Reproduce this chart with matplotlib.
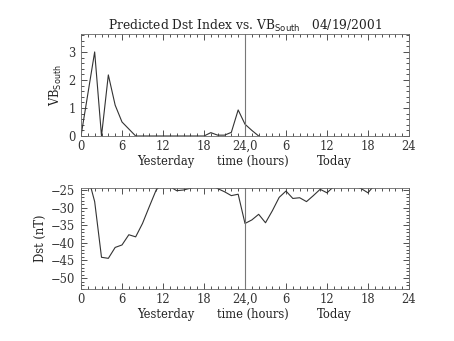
import matplotlib
matplotlib.use("Agg")
import matplotlib.pyplot as plt
from matplotlib.ticker import MultipleLocator

hours_vb = [0, 1, 2, 3, 4, 5, 6, 7, 8, 9, 10, 11, 12, 13, 14, 15, 16, 17, 18,
            19, 20, 21, 22, 23, 24, 25, 26]
vb_south = [0, 1.5, 3.0, 0, 2.18, 1.1, 0.5, 0.25, 0, 0, 0, 0, 0, 0, 0, 0, 0, 0, 0,
            0.12, 0.03, 0.03, 0.13, 0.93, 0.42, 0.2, 0]

hours_dst = list(range(0, 44))
dst = [-21, -21, -28.3, -44.1, -44.4, -41.3, -40.6, -37.7, -38.3, -34.5, -29.7,
       -25.0, -23.0, -24.0, -25.2, -25.0, -24.5, -24.0, -23.0, -23.5, -24.6,
       -25.5, -26.6, -26.2, -34.5, -33.5, -31.9, -34.3, -30.9, -27.1, -25.3,
       -27.4, -27.2, -28.3, -26.6, -24.8, -25.8, -24.0, -23.5, -23.0, -23.8,
       -24.6, -25.8, -23.5]

xticks = [0, 6, 12, 18, 24, 30, 36, 42, 48]
xticklabels = ["0", "6", "12", "18", "24,0", "6", "12", "18", "24"]

plt.rcParams['font.family'] = ['DejaVu Serif']
fs = 8.3

fig = plt.figure(figsize=(4.54, 3.41), dpi=100)
ax1 = fig.add_axes([81/454, 1 - 136/341, 328/454, 102/341])
ax2 = fig.add_axes([81/454, 1 - 289/341, 328/454, 101.3/341])


def style(ax):
    ax.set_xlim(0, 48)
    ax.set_xticks(xticks)
    ax.set_xticklabels(xticklabels)
    ax.xaxis.set_minor_locator(MultipleLocator(1))
    ax.tick_params(which='both', direction='in', top=True, right=True,
                   labelsize=fs, width=0.6, colors='#333333', pad=3)
    ax.tick_params(axis='y', pad=4)
    ax.tick_params(which='major', length=4)
    ax.tick_params(which='minor', length=2)
    for s in ax.spines.values():
        s.set_linewidth(0.6)
        s.set_color('#666666')
    ax.axvline(24, color='#777777', lw=0.8)
    for x, label in [(12.4, "Yesterday"), (25.2, "time (hours)"), (37, "Today")]:
        ax.text(x, -0.25, label, transform=ax.get_xaxis_transform(),
                ha='center', va='center', fontsize=fs, color='#222222')


ax1.plot(hours_vb, vb_south, color='#333333', lw=0.8)
ax1.set_ylim(0, 3.64)
ax1.set_yticks([0, 1, 2, 3])
ax1.yaxis.set_minor_locator(MultipleLocator(0.2))
style(ax1)
ax1.set_ylabel("VB$_{\\mathrm{South}}$", fontsize=fs, labelpad=3, color='#222222')
ax1.set_title("Predicted Dst Index vs. VB$_{\\mathrm{South}}$   04/19/2001",
              fontsize=8.8, pad=3, color='#222222')

ax2.plot(hours_dst, dst, color='#333333', lw=0.8)
ax2.set_ylim(-53.1, -24.35)
ax2.set_yticks([-25, -30, -35, -40, -45, -50])
ax2.set_yticklabels(["\u221225", "\u221230", "\u221235", "\u221240", "\u221245", "\u221250"])
ax2.yaxis.set_minor_locator(MultipleLocator(1))
style(ax2)
ax2.set_ylabel("Dst (nT)", fontsize=fs, labelpad=3, color='#222222')

fig.savefig("out.png", dpi=100)
